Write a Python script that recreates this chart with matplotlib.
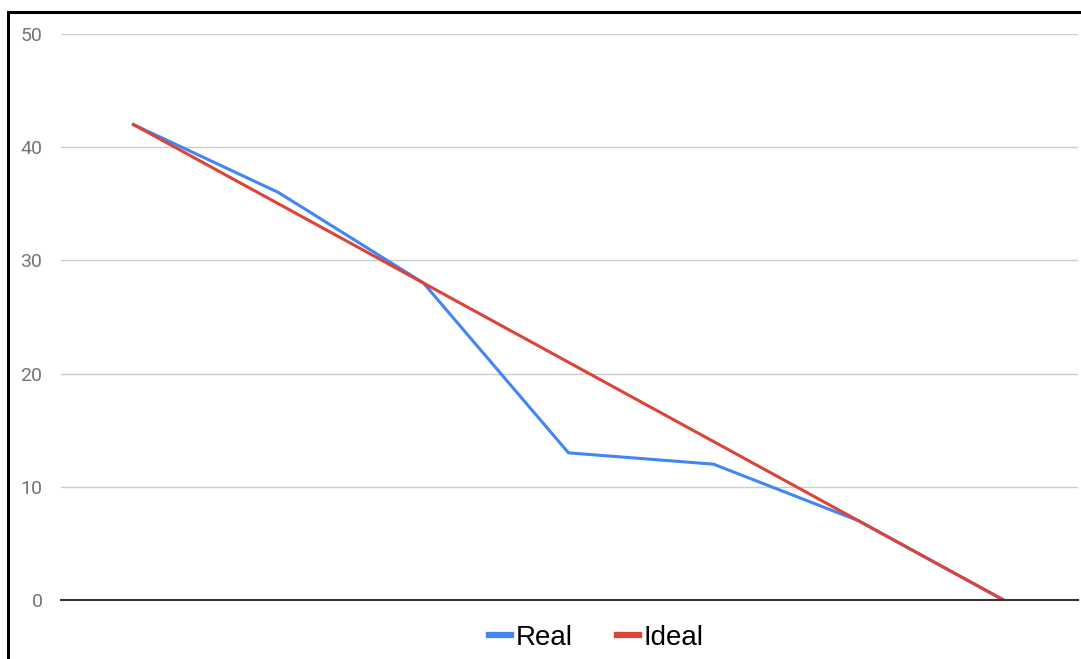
import matplotlib
matplotlib.use("Agg")
import matplotlib.pyplot as plt
from matplotlib.patches import Rectangle

plt.rcParams['font.family'] = ['Liberation Sans', 'DejaVu Sans']

# Burndown data: remaining work per step
steps = list(range(7))
real = [42, 36, 28, 13, 12, 7, 0]
ideal = [42, 35, 28, 21, 14, 7, 0]
y_ticks = [0, 10, 20, 30, 40, 50]

W, H = 1081, 659
fig = plt.figure(figsize=(W / 100, H / 100), dpi=100)

# Plot area in pixel coordinates
left, right, top, bottom = 60.5, 1077.5, 34, 600
ax = fig.add_axes([left / W, 1 - bottom / H, (right - left) / W, (bottom - top) / H])

ax.plot(steps, real, color='#4285F4', lw=2.2, label='Real', zorder=3,
        solid_joinstyle='round')
ax.plot(steps, ideal, color='#DB4437', lw=2.2, label='Ideal', zorder=4,
        solid_joinstyle='round')

ax.set_xlim(-0.503, 6.51)
ax.set_ylim(0, 50)
ax.set_yticks(y_ticks)
ax.set_xticks([])
for y in y_ticks[1:]:
    ax.axhline(y, color='#cccccc', lw=1, zorder=1)
ax.axhline(0, color='#333333', lw=1.5, zorder=5, clip_on=False)

for s in ax.spines.values():
    s.set_visible(False)
ax.tick_params(axis='y', length=0, pad=13, labelsize=14, labelcolor='#757575')
for lbl in ax.get_yticklabels():
    lbl.set_family(['Roboto', 'DejaVu Sans'])

leg = fig.legend(loc='center', bbox_to_anchor=(596 / W, 1 - 638 / H), ncol=2,
                 frameon=False, fontsize=20, handlelength=0.8, handletextpad=0.15,
                 columnspacing=1.6)
for line in leg.get_lines():
    line.set_linewidth(4.5)

# Outer frame (left and top edges visible; right and bottom run off the canvas)
fig.patches.append(Rectangle((8 / W, -0.05), 1.1, 1.05 - 12 / H,
                             transform=fig.transFigure, fill=False,
                             edgecolor='black', lw=2.2, zorder=10))

fig.savefig('out.png', dpi=100, facecolor='white')
